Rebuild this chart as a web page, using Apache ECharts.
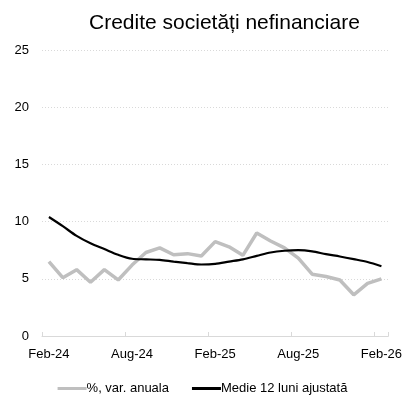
<!DOCTYPE html>
<html>
<head>
<meta charset="utf-8">
<script src="https://cdn.jsdelivr.net/npm/echarts@6/dist/echarts.min.js"></script>
<style>html,body{margin:0;padding:0;background:#fff}#c{width:405px;height:396px}</style>
</head>
<body>
<div id="c"></div>
<script>
var categories = ['Feb-24','Mar-24','Apr-24','May-24','Jun-24','Jul-24','Aug-24','Sep-24','Oct-24','Nov-24','Dec-24','Jan-25',
  'Feb-25','Mar-25','Apr-25','May-25','Jun-25','Jul-25','Aug-25','Sep-25','Oct-25','Nov-25','Dec-25','Jan-26','Feb-26'];
var annualVar = [6.5, 5.1, 5.8, 4.7, 5.8, 4.9, 6.2, 7.3, 7.7, 7.1, 7.2, 7.0,
  8.25, 7.8, 7.05, 9.0, 8.3, 7.7, 6.8, 5.4, 5.2, 4.9, 3.6, 4.6, 5.0];
var avg12 = [10.4, 9.6, 8.75, 8.1, 7.6, 7.1, 6.75, 6.7, 6.65, 6.5, 6.37, 6.25,
  6.3, 6.5, 6.7, 7.0, 7.3, 7.45, 7.5, 7.4, 7.15, 6.95, 6.72, 6.47, 6.1];
var yTicks = [0, 5, 10, 15, 20, 25];
var seriesNames = ['%, var. anuala', 'Medie 12 luni ajustată'];
var titleText = 'Credite societăți nefinanciare';

var chart = echarts.init(document.getElementById('c'), null, {renderer: 'canvas'});
var font = 'Liberation Sans, Arial, sans-serif';
chart.setOption({
  animation: false,
  title: {
    text: titleText, left: 84, top: 8,
    textStyle: {fontFamily: font, fontSize: 21, fontWeight: 'normal', color: '#000'}
  },
  legend: {
    top: 377, left: 'center', itemGap: 23, itemWidth: 29, itemHeight: 3,
    icon: 'rect',
    textStyle: {fontFamily: font, fontSize: 13, color: '#000', padding: [0,0,0,-5]},
    data: seriesNames
  },
  grid: {left: 42, right: 16, top: 50, bottom: 60, containLabel: false},
  xAxis: {
    type: 'category', data: categories, boundaryGap: true,
    axisLine: {lineStyle: {color: '#d9d9d9', width: 1}},
    axisTick: {show: true, inside: true, length: 4, interval: 5, lineStyle: {color: '#d9d9d9'}},
    axisLabel: {interval: 5, fontFamily: font, fontSize: 13, color: '#000', margin: 12}
  },
  yAxis: {
    type: 'value', min: yTicks[0], max: yTicks[yTicks.length-1], interval: 5,
    axisLine: {show: false}, axisTick: {show: false},
    axisLabel: {fontFamily: font, fontSize: 13, color: '#000', margin: 13},
    splitLine: {lineStyle: {color: '#d9d9d9', type: [1, 2], width: 1}}
  },
  series: [
    {name: seriesNames[0], type: 'line', data: annualVar, showSymbol: false, symbol: 'none',
     lineStyle: {color: '#bfbfbf', width: 3.5}, itemStyle: {color: '#bfbfbf'}},
    {name: seriesNames[1], type: 'line', data: avg12, showSymbol: false, symbol: 'none', smooth: 0.3,
     lineStyle: {color: '#000', width: 2.2}, itemStyle: {color: '#000'}}
  ]
});
</script>
</body>
</html>
